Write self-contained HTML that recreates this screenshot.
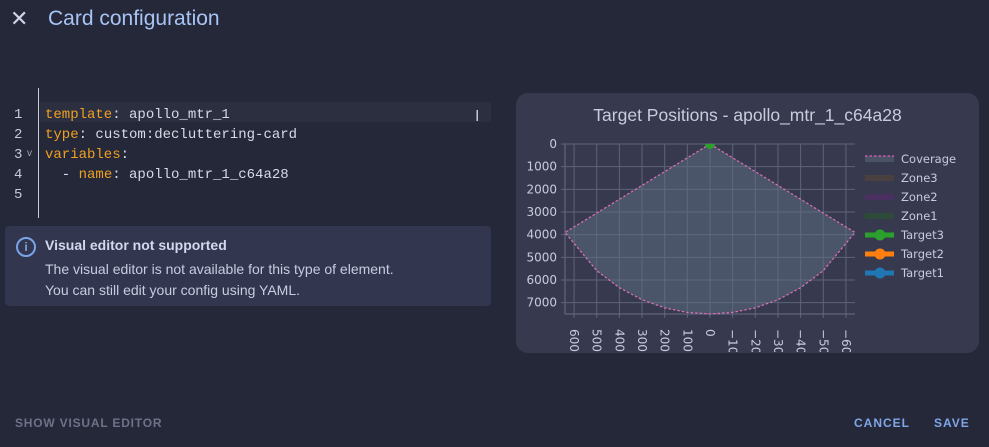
<!DOCTYPE html>
<html><head><meta charset="utf-8">
<style>
html,body{margin:0;padding:0;width:989px;height:447px;overflow:hidden;background:#252839;font-family:"Liberation Sans",sans-serif;}
.abs{position:absolute;}
.mono{font-family:"Liberation Mono","DejaVu Sans Mono",monospace;font-size:14px;}
.k{color:#f0a020;}
.v{color:#d8dae8;}
</style></head><body>
<div class="abs" style="left:10px;top:8px;width:18px;height:22px;color:#d0d4e8;font-size:22px;line-height:22px;">✕</div>
<div class="abs" style="left:48px;top:7px;color:#a8c4f4;font-size:21px;">Card configuration</div>

<div class="abs" style="left:0;top:88px;width:492px;height:130px;">
  <div class="abs" style="left:38px;top:0;width:1px;height:130px;background:#c8cad8;"></div>
  <div class="abs" style="left:40px;top:14px;width:451px;height:20px;background:#2b2f40;"></div>
  <div class="abs mono" style="left:14px;top:17px;color:#c8cad8;line-height:20px;">1<br>2<br>3<br>4<br>5</div>
  <div class="abs" style="left:27px;top:60px;color:#a0a4b8;font-size:10px;">v</div>
  <div class="abs mono" style="left:45px;top:17px;line-height:20px;white-space:pre;"><span class="k">template</span><span class="v">: apollo_mtr_1</span>
<span class="k">type</span><span class="v">: custom:decluttering-card</span>
<span class="k">variables</span><span class="v">:</span>
<span class="v">  - </span><span class="k">name</span><span class="v">: apollo_mtr_1_c64a28</span></div>
  <div class="abs" style="left:475px;top:20px;color:#c8cad8;font-size:16px;">I</div>
</div>

<div class="abs" style="left:5px;top:226px;width:486px;height:80px;background:#32364f;border-radius:4px;">
  <div class="abs" style="left:11px;top:11px;width:16px;height:16px;border:2px solid #7aa4e8;border-radius:50%;color:#7aa4e8;font-size:12px;font-weight:bold;text-align:center;line-height:16px;">i</div>
  <div class="abs" style="left:40px;top:11px;color:#d4d8ec;font-size:14px;font-weight:bold;">Visual editor not supported</div>
  <div class="abs" style="left:40px;top:33px;color:#c8cce0;font-size:14px;line-height:21px;">The visual editor is not available for this type of element.<br>You can still edit your config using YAML.</div>
</div>

<div class="abs" style="left:15px;top:416px;color:#6e7288;font-size:12px;font-weight:bold;letter-spacing:0.8px;">SHOW VISUAL EDITOR</div>
<div class="abs" style="left:854px;top:416px;color:#7ea6e8;font-size:12px;font-weight:bold;letter-spacing:1px;">CANCEL</div>
<div class="abs" style="left:934px;top:416px;color:#7ea6e8;font-size:12px;font-weight:bold;letter-spacing:1px;">SAVE</div>

<div class="abs" style="left:516px;top:93px;width:463px;height:260px;background:#373a4f;border-radius:12px;">
  <div class="abs" style="left:0;width:463px;top:12px;text-align:center;color:#c8cbdc;font-size:17.5px;">Target Positions - apollo_mtr_1_c64a28</div>
</div>
<svg id="chart" class="abs" style="left:0;top:0" width="989" height="447"></svg>

<script>
const yTicks=[0,1000,2000,3000,4000,5000,6000,7000];
const xTicks=[6000,5000,4000,3000,2000,1000,0,-1000,-2000,-3000,-4000,-5000,-6000];
const xTickLabels=["6000","5000","4000","3000","2000","1000","0","−1000","−2000","−3000","−4000","−5000","−6000"];
const coverageX=[0,6400,5000,4000,3000,2000,1000,0,-1000,-2000,-3000,-4000,-5000,-6400];
const coverageY=[0,3900,5590,6340,6870,7230,7430,7500,7430,7230,6870,6340,5590,3900];
const targetNames=["Target3"];
const targetX=[0];
const targetY=[0];
const legendNames=["Coverage","Zone3","Zone2","Zone1","Target3","Target2","Target1"];
const legendColors=["#e060b0","#4a4040","#4a3060","#2e4a3a","#2ca02c","#ff7f0e","#1f77b4"];

const L=565,R=855,T=144,B=314,X0=6400,X1=-6400,Y0=0,Y1=7500;
const sx=v=>L+(X0-v)/(X0-X1)*(R-L);
const sy=v=>T+(v-Y0)/(Y1-Y0)*(B-T);
const svg=document.getElementById('chart');
const NS='http://www.w3.org/2000/svg';
function mk(tag,attrs,parent){const e=document.createElementNS(NS,tag);for(const k in attrs)e.setAttribute(k,attrs[k]);(parent||svg).appendChild(e);return e;}
const clip=mk('clipPath',{id:'pc'});mk('rect',{x:L,y:T,width:R-L,height:B-T},clip);
const clip2=mk('clipPath',{id:'cc'});mk('rect',{x:516,y:93,width:463,height:259},clip2);
const g=mk('g',{});
const gx=mk('g',{'clip-path':'url(#cc)'});
const cov=mk('polygon',{points:coverageX.map((x,i)=>sx(x)+','+sy(coverageY[i])).join(' '),fill:'#5c6b82','fill-opacity':0.55,stroke:'none'});


yTicks.forEach(t=>{
  const l=mk('line',{x1:L-4,x2:R,y1:sy(t),y2:sy(t),stroke:'#5e6478','stroke-width':1},g);
  
  
  const tx=mk('text',{x:L-8,y:sy(t)+4,'text-anchor':'end',fill:'#c8cbdc','font-size':12,'font-family':'DejaVu Sans, sans-serif'},g);
  tx.textContent=t;
  
  
});
xTicks.forEach((t,i)=>{
  const l=mk('line',{x1:sx(t),x2:sx(t),y1:T,y2:B+4,stroke:'#5e6478','stroke-width':1},g);
  
  
  const tx=mk('text',{x:0,y:0,transform:`translate(${sx(t)-4},${B+15}) rotate(90)`,fill:'#c8cbdc','font-size':12,'font-family':'DejaVu Sans, sans-serif'},gx);
  tx.textContent=xTickLabels[i];
  
  
});
mk('line',{x1:L,x2:L,y1:T,y2:B,stroke:'#6a6e84'});
mk('line',{x1:L,x2:R,y1:B,y2:B,stroke:'#6a6e84'});
const covLine=mk('polygon',{points:coverageX.map((x,i)=>sx(x)+','+sy(coverageY[i])).join(' '),fill:'none',stroke:'#e070b8','stroke-width':1.2,'stroke-dasharray':'2.5,2'});


targetX.forEach((x,i)=>{
  const c=mk('circle',{cx:sx(x),cy:sy(targetY[i]),r:5,fill:'#2ca02c','clip-path':'url(#pc)'});
  
  
});
legendNames.forEach((n,i)=>{
  const y=159+i*19;
  const lg=mk('g',{});
  
  
  if(i===0){
    mk('rect',{x:865,y:y-3,width:29,height:6,fill:'#4a5266'},lg);
    mk('line',{x1:865,x2:894,y1:y-3,y2:y-3,stroke:legendColors[i],'stroke-width':1.2,'stroke-dasharray':'2.5,2'},lg);
  } else if(i<4){
    mk('rect',{x:865,y:y-3,width:29,height:6,fill:legendColors[i]},lg);
  } else {
    mk('line',{x1:865,x2:894,y1:y,y2:y,stroke:legendColors[i],'stroke-width':5},lg);
    mk('circle',{cx:880,cy:y,r:5.5,fill:legendColors[i]},lg);
  }
  const t=mk('text',{x:901,y:y+4,fill:'#c8cbdc','font-size':11.5,'font-family':'DejaVu Sans, sans-serif'},lg);
  t.textContent=n;
});
</script>
</body></html>
